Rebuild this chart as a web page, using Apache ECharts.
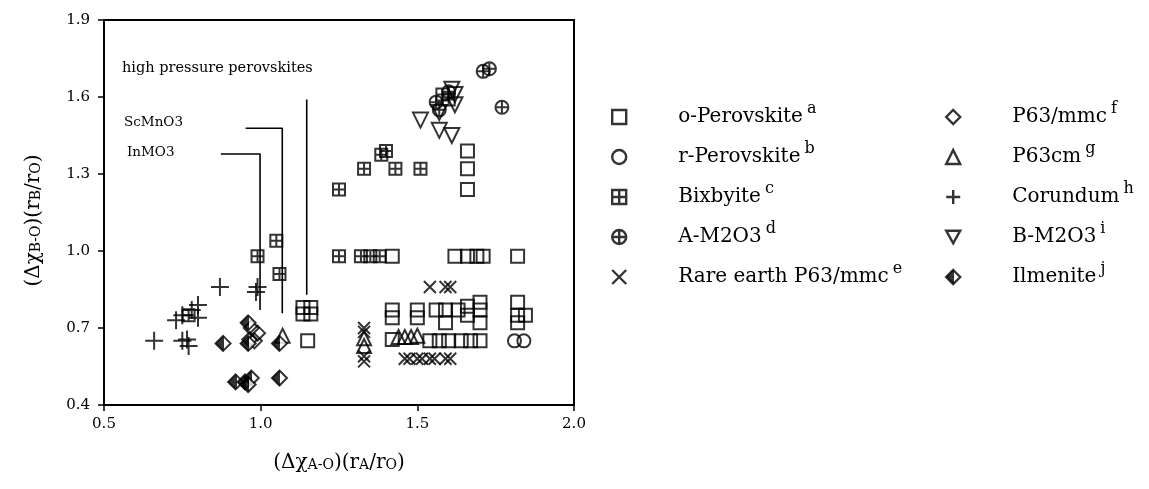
<!DOCTYPE html>
<html>
<head>
<meta charset="utf-8">
<script src="https://cdn.jsdelivr.net/npm/echarts@6/dist/echarts.min.js"></script>
<style>
  html, body { margin: 0; padding: 0; background: #fff; }
  #chart { width: 1149px; height: 489px; }
</style>
</head>
<body>
<div id="chart"></div>
<script>
// Axis tick values
const xTicks = [0.5, 1.0, 1.5, 2.0];
const yTicks = [0.4, 0.7, 1.0, 1.3, 1.6, 1.9];

// Structure types: [(Δχ A-O)(rA/rO), (Δχ B-O)(rB/rO)]
const oPerovskite = [
  [1.135, 0.78], [1.16, 0.78], [1.135, 0.755], [1.16, 0.755], [1.15, 0.65],
  [1.66, 1.39], [1.66, 1.32], [1.66, 1.24],
  [1.42, 0.98], [1.62, 0.98], [1.66, 0.98], [1.69, 0.98], [1.71, 0.98], [1.82, 0.98],
  [1.42, 0.655], [1.54, 0.65], [1.57, 0.65], [1.60, 0.65], [1.64, 0.65], [1.67, 0.65], [1.70, 0.65],
  [1.42, 0.77], [1.42, 0.74], [1.50, 0.77], [1.50, 0.74], [1.56, 0.77], [1.59, 0.77], [1.59, 0.72],
  [1.63, 0.77], [1.66, 0.785], [1.66, 0.75], [1.70, 0.80], [1.70, 0.77], [1.70, 0.72],
  [1.82, 0.80], [1.82, 0.75], [1.845, 0.75], [1.82, 0.72]
];
const rPerovskite = [[1.81, 0.65], [1.84, 0.65]];
const bixbyite = [
  [0.77, 0.75], [0.99, 0.98], [1.05, 1.04], [1.06, 0.91],
  [1.25, 0.98], [1.32, 0.98], [1.35, 0.98], [1.38, 0.98],
  [1.25, 1.24], [1.33, 1.32], [1.43, 1.32], [1.51, 1.32], [1.40, 1.39], [1.385, 1.375],
  [1.58, 1.61], [1.60, 1.59]
];
const aM2O3 = [[1.71, 1.70], [1.73, 1.71], [1.77, 1.56], [1.56, 1.58], [1.57, 1.55], [1.60, 1.62]];
const rareEarthP63mmc = [
  [1.54, 0.86], [1.59, 0.86], [1.605, 0.86],
  [1.33, 0.70], [1.33, 0.685], [1.33, 0.59], [1.33, 0.57],
  [1.46, 0.58], [1.475, 0.58], [1.50, 0.58], [1.515, 0.58], [1.54, 0.58], [1.555, 0.58],
  [1.59, 0.58], [1.605, 0.58]
];
const p63mmc = [[0.97, 0.70], [0.99, 0.68], [0.98, 0.65], [0.965, 0.655]];
const p63cm = [[1.33, 0.66], [1.33, 0.63], [1.07, 0.67], [1.44, 0.665], [1.46, 0.665], [1.48, 0.665], [1.50, 0.67]];
const corundum = [
  [0.66, 0.65], [0.75, 0.65], [0.77, 0.63], [0.765, 0.655], [0.73, 0.73], [0.75, 0.75],
  [0.78, 0.77], [0.80, 0.79], [0.80, 0.74], [0.87, 0.86], [0.99, 0.86], [0.985, 0.84]
];
const bM2O3 = [[1.51, 1.51], [1.57, 1.47], [1.61, 1.45], [1.57, 1.54], [1.62, 1.57], [1.62, 1.61], [1.61, 1.63]];
const ilmenite = [
  [0.88, 0.64], [0.96, 0.72], [0.96, 0.64], [1.06, 0.64],
  [0.92, 0.49], [0.95, 0.49], [0.97, 0.505], [0.96, 0.48], [1.06, 0.505]
];

// Guide lines for the high pressure perovskites
const hpLine = [[1.147, 1.59], [1.147, 0.83]];
const scMnO3Line = [[0.952, 1.478], [1.069, 1.478], [1.069, 0.757]];
const inMO3Line = [[0.873, 1.378], [0.998, 1.378], [0.998, 0.77]];

// Marker shapes
const SYM_BIX = 'path://M0,0L10,0L10,10L0,10Z M5,0L5,10 M0,5L10,5';
const SYM_AM = 'path://M0,5A5,5 0 1 1 10,5A5,5 0 1 1 0,5Z M5,0L5,10 M0,5L10,5';
const SYM_X = 'path://M0,0L10,10 M10,0L0,10';
const SYM_PLUS = 'path://M5,0L5,10 M0,5L10,5';
const SYM_TRI_DOWN = 'path://M0,0L10,0L5,9Z';

const halfFill = new echarts.graphic.LinearGradient(0, 0, 1, 0, [
  { offset: 0, color: '#000' }, { offset: 0.56, color: '#000' },
  { offset: 0.56, color: '#fff' }, { offset: 1, color: '#fff' }
]);
const EMPTY = 'rgba(0,0,0,0)';

const types = [
  { name: 'o-Perovskite', sup: 'a', data: oPerovskite, symbol: 'rect', size: 13, fill: EMPTY },
  { name: 'r-Perovskite', sup: 'b', data: rPerovskite, symbol: 'circle', size: 13, fill: EMPTY },
  { name: 'Bixbyite', sup: 'c', data: bixbyite, symbol: SYM_BIX, size: 12, fill: EMPTY },
  { name: 'A-M2O3', sup: 'd', data: aM2O3, symbol: SYM_AM, size: 13, fill: EMPTY },
  { name: 'Rare earth P63/mmc', sup: 'e', data: rareEarthP63mmc, symbol: SYM_X, size: 12, fill: EMPTY },
  { name: 'P63/mmc', sup: 'f', data: p63mmc, symbol: 'diamond', size: [15, 15], fill: EMPTY },
  { name: 'P63cm', sup: 'g', data: p63cm, symbol: 'triangle', size: 14, fill: EMPTY },
  { name: 'Corundum', sup: 'h', data: corundum, symbol: SYM_PLUS, size: 18, fill: EMPTY },
  { name: 'B-M2O3', sup: 'i', data: bM2O3, symbol: SYM_TRI_DOWN, size: 15, fill: EMPTY },
  { name: 'Ilmenite', sup: 'j', data: ilmenite, symbol: 'diamond', size: [15, 15], fill: halfFill }
];
const supByName = {};
types.forEach(t => { supByName[t.name] = t.sup; });

const SERIF = '"DejaVu Serif", "Liberation Serif", serif';
const INK = '#000';

const series = types.map(t => ({
  type: 'scatter',
  name: t.name,
  data: t.data,
  symbol: t.symbol,
  symbolSize: t.size,
  itemStyle: { color: t.fill, borderColor: INK, borderWidth: 2 },
  emphasis: { disabled: true },
  z: 3
}));

[hpLine, scMnO3Line, inMO3Line].forEach((pts, i) => {
  series.push({
    type: 'line',
    name: 'guide' + i,
    data: pts,
    symbol: 'none',
    lineStyle: { color: INK, width: 1.6 },
    emphasis: { disabled: true },
    silent: true,
    z: 2
  });
});

const legendText = {
  rich: {
    n: { fontFamily: SERIF, fontSize: 20, color: INK, padding: [0, 0, 0, 47] },
    s: { fontFamily: SERIF, fontSize: 16, color: INK, padding: [0, 0, 16, 4] }
  }
};
const legendBase = {
  orient: 'vertical',
  top: 101,
  padding: 0,
  itemWidth: 14,
  itemHeight: 14,
  itemGap: 14,
  selectedMode: false,
  textStyle: legendText,
  itemStyle: { borderColor: INK, borderWidth: 2.4 },
  formatter: name => '{n|' + name + '}{s|' + supByName[name] + '}'
};

const axisNameRich = {
  a: { fontFamily: SERIF, fontSize: 20, color: INK },
  s: { fontFamily: SERIF, fontSize: 14, color: INK, padding: [4, 0, 0, 0] }
};

const chart = echarts.init(document.getElementById('chart'), null, { renderer: 'canvas' });
chart.setOption({
  animation: false,
  backgroundColor: '#fff',
  grid: {
    left: 104, right: 575, top: 20, bottom: 84,
    show: true, borderColor: INK, borderWidth: 2, backgroundColor: 'transparent'
  },
  legend: [
    Object.assign({}, legendBase, { left: 611, data: types.slice(0, 5).map(t => t.name) }),
    Object.assign({}, legendBase, { left: 945, data: types.slice(5).map(t => t.name) })
  ],
  xAxis: {
    type: 'value',
    min: xTicks[0], max: xTicks[xTicks.length - 1],
    axisLine: { onZero: false, lineStyle: { color: INK, width: 2 } },
    axisTick: { customValues: xTicks, length: 6, lineStyle: { color: INK, width: 1.5 } },
    axisLabel: {
      customValues: xTicks, margin: 12, color: INK,
      fontFamily: SERIF, fontSize: 15,
      formatter: v => v.toFixed(1)
    },
    splitLine: { show: false },
    name: '{a|(Δχ}{s|A-O}{a|)(r}{s|A}{a|/r}{s|O}{a|)}',
    nameLocation: 'middle',
    nameGap: 48,
    nameTextStyle: { rich: axisNameRich }
  },
  yAxis: {
    type: 'value',
    min: yTicks[0], max: yTicks[yTicks.length - 1],
    axisLine: { onZero: false, lineStyle: { color: INK, width: 2 } },
    axisTick: { customValues: yTicks, length: 6, lineStyle: { color: INK, width: 1.5 } },
    axisLabel: {
      customValues: yTicks, margin: 14, color: INK,
      fontFamily: SERIF, fontSize: 15,
      formatter: v => v.toFixed(1)
    },
    splitLine: { show: false },
    name: '{a|(Δχ}{s|B-O}{a|)(r}{s|B}{a|/r}{s|O}{a|)}',
    nameLocation: 'middle',
    nameGap: 60,
    nameRotate: 90,
    nameTextStyle: { rich: axisNameRich, padding: [0, 16, 0, 0] }
  },
  graphic: [
    { type: 'text', left: 122, top: 61, style: { text: 'high pressure perovskites', font: '14.5px ' + SERIF, fill: INK } },
    { type: 'text', left: 124, top: 115, style: { text: 'ScMnO3', font: '13.5px ' + SERIF, fill: INK } },
    { type: 'text', left: 127, top: 145, style: { text: 'InMO3', font: '13.5px ' + SERIF, fill: INK } }
  ],
  series: series
});
</script>
</body>
</html>
